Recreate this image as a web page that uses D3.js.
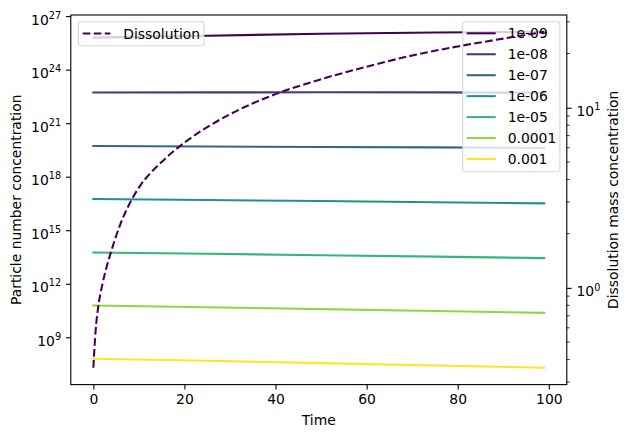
<!DOCTYPE html>
<html><head><meta charset="utf-8">
<script src="https://cdn.jsdelivr.net/npm/d3@7"></script>
<style>body{margin:0;background:#fff} text{font-family:"DejaVu Sans",sans-serif}</style>
</head><body><svg id="c" width="631" height="437"></svg>
<script>
// ---------- data ----------
const times = [0, 25, 50, 75, 99];
const sizeLabels = ["1e-09", "1e-08", "1e-07", "1e-06", "1e-05", "0.0001", "0.001"];
const conc_1e09 = [6.2e25, 8.0e25, 1.02e26, 1.2e26, 1.32e26];
const conc_1e08 = [5.2e22, 5.3e22, 5.35e22, 5.3e22, 5.1e22];
const conc_1e07 = [5.2e19, 4.9e19, 4.6e19, 4.4e19, 4.1e19];
const conc_1e06 = [5.6e16, 4.9e16, 4.3e16, 3.7e16, 3.2e16];
const conc_1e05 = [5.7e13, 4.8e13, 4.0e13, 3.3e13, 2.75e13];
const conc_1e04 = [6.0e10, 4.8e10, 3.8e10, 2.95e10, 2.35e10];
const conc_1e03 = [6.3e7, 4.8e7, 3.55e7, 2.65e7, 1.95e7];
const dissTimes = [0, 0.5, 1, 2, 3, 4, 6, 8, 10, 15, 20, 25, 30, 40, 50, 60, 70, 80, 90, 99];
const dissValues = [0.36, 0.58, 0.76, 1.05, 1.33, 1.62, 2.28, 2.95, 3.6, 5.0, 6.4, 7.8, 9.2, 11.9, 14.4, 16.9, 19.5, 21.9, 24.2, 26.4];
const xTicks = [0, 20, 40, 60, 80, 100];
const leftTicks = [1e9, 1e12, 1e15, 1e18, 1e21, 1e24, 1e27];
const rightMajor = [1, 10];
const rightMinor = [0.3, 0.4, 0.5, 0.6, 0.7, 0.8, 0.9, 2, 3, 4, 5, 6, 7, 8, 9, 20, 30];
const colors = ["#440154", "#443983", "#31688e", "#21918c", "#35b779", "#90d743", "#fde725"];

const seriesList = [conc_1e09, conc_1e08, conc_1e07, conc_1e06, conc_1e05, conc_1e04, conc_1e03];

// ---------- layout ----------
const L = 70.8, T = 15, W = 496, H = 369.6;
const svg = d3.select("#c");
const FS = 13.9;

function padLog(vals) {
  const lo = Math.log10(d3.min(vals)), hi = Math.log10(d3.max(vals));
  const m = (hi - lo) * 0.05;
  return [Math.pow(10, lo - m), Math.pow(10, hi + m)];
}
const tExt = d3.extent(times.concat(dissTimes));
const tm = (tExt[1] - tExt[0]) * 0.05;
const x = d3.scaleLinear().domain([tExt[0] - tm, tExt[1] + tm]).range([L, L + W]);
const yL = d3.scaleLog().domain(padLog(seriesList.flat())).range([T + H, T]);
const yR = d3.scaleLog().domain(padLog(dissValues)).range([T + H, T]);

svg.append("rect").attr("x", 0).attr("y", 0).attr("width", 631).attr("height", 437).attr("fill", "#fff");

// ---------- particle lines (ax1) ----------
const lineL = d3.line().x((d, i) => x(times[i])).y(d => yL(d));
seriesList.forEach((s, i) => {
  svg.append("path").attr("d", lineL(s)).attr("fill", "none")
    .attr("stroke", colors[i]).attr("stroke-width", 2.08).attr("stroke-linecap", "square");
});

// ---------- axes ----------
function supText(sel, d) {
  const e = Math.round(Math.log10(d));
  sel.text(null).attr("dy", null).attr("y", 8);
  sel.append("tspan").text("10");
  sel.append("tspan").attr("dy", -5.8).attr("font-size", 9.7).text(e);
}

const gx = svg.append("g").attr("transform", `translate(0,${T + H})`)
  .call(d3.axisBottom(x).tickValues(xTicks).tickSize(4.86).tickPadding(4.86).tickFormat(d3.format("d")));
const gl = svg.append("g").attr("transform", `translate(${L},0)`)
  .call(d3.axisLeft(yL).tickValues(leftTicks).tickSize(4.86).tickPadding(4.86).tickFormat(d => d));
gl.selectAll(".tick text").each(function (d) { supText(d3.select(this), d); });

[gx, gl].forEach(g => {
  g.select(".domain").remove();
  g.selectAll(".tick line").attr("stroke", "#000").attr("stroke-width", 1.1);
  g.selectAll(".tick text").attr("font-family", "DejaVu Sans").attr("font-size", FS).attr("fill", "#000");
});

// ---------- right legend (ax1 legend) ----------
const lg1 = svg.append("g");
lg1.append("rect").attr("x", 462.7).attr("y", 21.7).attr("width", 97.2).attr("height", 150)
  .attr("rx", 2.8).attr("fill", "#fff").attr("fill-opacity", 0.8)
  .attr("stroke", "#cccccc").attr("stroke-opacity", 0.8).attr("stroke-width", 1.1);
sizeLabels.forEach((lab, i) => {
  const yy = 33.3 + i * 20.95;
  lg1.append("line").attr("x1", 467.7).attr("x2", 494.7).attr("y1", yy).attr("y2", yy)
    .attr("stroke", colors[i]).attr("stroke-width", 2.08).attr("stroke-linecap", "square");
  lg1.append("text").attr("x", 507.7).attr("y", yy + 5).attr("font-size", FS).attr("fill", "#000").text(lab);
});

// ---------- dissolution (ax2) ----------
const lineR = d3.line().x((d, i) => x(dissTimes[i])).y(d => yR(d)).curve(d3.curveMonotoneX);
svg.append("path").attr("d", lineR(dissValues)).attr("fill", "none")
  .attr("stroke", colors[0]).attr("stroke-width", 2.08).attr("stroke-dasharray", "7.7,3.3");

const gr = svg.append("g").attr("transform", `translate(${L + W},0)`)
  .call(d3.axisRight(yR).tickValues(rightMajor).tickSize(4.86).tickPadding(4.86).tickFormat(d => d));
gr.select(".domain").remove();
gr.selectAll(".tick line").attr("stroke", "#000").attr("stroke-width", 1.1);
gr.selectAll(".tick text").attr("font-size", FS).attr("fill", "#000").each(function (d) { supText(d3.select(this), d); });
gr.selectAll(".minor").data(rightMinor).enter().append("line").attr("class", "minor")
  .attr("x1", 0).attr("x2", 2.78).attr("y1", d => yR(d)).attr("y2", d => yR(d))
  .attr("stroke", "#000").attr("stroke-width", 0.83);

// spines
svg.append("rect").attr("x", L).attr("y", T).attr("width", W).attr("height", H)
  .attr("fill", "none").attr("stroke", "#000").attr("stroke-width", 1.1);

// ---------- left legend (ax2 legend) ----------
const lg2 = svg.append("g");
lg2.append("rect").attr("x", 78.3).attr("y", 21.7).attr("width", 125.7).attr("height", 24)
  .attr("rx", 2.8).attr("fill", "#fff").attr("fill-opacity", 0.8)
  .attr("stroke", "#cccccc").attr("stroke-opacity", 0.8).attr("stroke-width", 1.1);
lg2.append("line").attr("x1", 82.7).attr("x2", 110.5).attr("y1", 33.5).attr("y2", 33.5)
  .attr("stroke", colors[0]).attr("stroke-width", 2.08).attr("stroke-dasharray", "7.7,3.3");
lg2.append("text").attr("x", 123.3).attr("y", 38.5).attr("font-size", FS).attr("fill", "#000").text("Dissolution");

// ---------- axis labels ----------
svg.append("text").attr("x", L + W / 2).attr("y", 425).attr("text-anchor", "middle")
  .attr("font-size", FS).text("Time");
svg.append("text").attr("transform", `translate(20.5,${T + H / 2}) rotate(-90)`).attr("text-anchor", "middle")
  .attr("font-size", FS).text("Particle number concentration");
svg.append("text").attr("transform", `translate(617.5,${T + H / 2}) rotate(-90)`).attr("text-anchor", "middle")
  .attr("font-size", FS).text("Dissolution mass concentration");
</script></body></html>
